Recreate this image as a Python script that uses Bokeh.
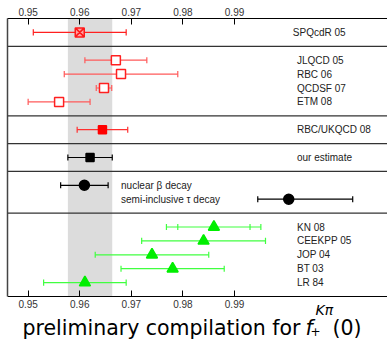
from bokeh.plotting import figure
from bokeh.models import Range1d, LinearAxis, FixedTicker, Span, BoxAnnotation
from bokeh.embed import file_html
from bokeh.resources import INLINE
from bokeh.core.properties import value

# ---------------- data ----------------
names = ["SPQcdR 05", "JLQCD 05", "RBC 06", "QCDSF 07", "ETM 08",
         "RBC/UKQCD 08", "our estimate", "nuclear β decay", "semi-inclusive τ decay",
         "KN 08", "CEEKPP 05", "JOP 04", "BT 03", "LR 84"]
rows = [1, 3, 4, 5, 6, 8, 10, 12, 13, 15, 16, 17, 18, 19]
center = [0.960, 0.967, 0.968, 0.9647, 0.956, 0.9644, 0.962, 0.9609, 1.0005,
          0.986, 0.984, 0.974, 0.978, 0.961]
err_lo = [0.951, 0.961, 0.957, 0.9632, 0.950, 0.9595, 0.9577, 0.9563, 0.9945,
          0.9768, 0.972, 0.963, 0.968, 0.953]
err_hi = [0.969, 0.973, 0.979, 0.9662, 0.962, 0.9693, 0.9663, 0.9655, 1.0129,
          0.9951, 0.996, 0.985, 0.988, 0.969]
kn_inner = [0.979, 0.993]          # inner error of KN 08 (row 15)
separators = [2, 7, 9, 11, 14]
n_rows = 20
estimate = 0.962
estimate_err = 0.0043
xticks = [0.95, 0.96, 0.97, 0.98, 0.99]

groups = [
    # indices, marker, line color, fill color, bar color, size
    ([0], "square_x", "#ff1a1a", "#ffa0a0", "#ff2020", 9),
    ([1, 2, 3, 4], "square", "#ff2020", "white", "#ff5a5a", 9),
    ([5], "square", "#ff0000", "#ff0000", "#ff3030", 8),
    ([6], "square", "black", "black", "black", 8),
    ([7, 8], "circle", "black", "black", "black", 10),
    ([9, 10, 11, 12, 13], "triangle", "#00ee00", "#00ee00", "#40ff40", 11),
]

X0, X1 = 0.946, 1.019643
ROW_PX = 13.9
Y_END = (340 - 18) / ROW_PX   # frame runs down to the bottom of the page
FONT = "Liberation Sans"

p = figure(width=387, height=340, output_backend="svg", toolbar_location=None,
           x_range=Range1d(X0, X1), y_range=Range1d(Y_END, 0),
           min_border_left=7, min_border_right=0, min_border_top=18, min_border_bottom=0,
           x_axis_location=None, y_axis_location="left")
p.outline_line_color = None
p.grid.visible = False
p.background_fill_color = "white"
p.border_fill_color = "white"

# left frame line (only over the rows)
p.yaxis.ticker = FixedTicker(ticks=[])
p.yaxis.major_label_text_font_size = "0px"
p.yaxis.major_tick_line_color = None
p.yaxis.minor_tick_line_color = None
p.yaxis.axis_line_color = "#444444"
p.yaxis.axis_line_width = 1.5
p.yaxis.bounds = (0, n_rows)

def style_x(ax):
    ax.ticker = FixedTicker(ticks=xticks)
    ax.major_tick_in = 6
    ax.major_tick_out = 0
    ax.minor_tick_line_color = None
    ax.major_tick_line_color = "black"
    ax.axis_line_color = "black"
    ax.axis_line_width = 1.2
    ax.major_label_text_font = FONT
    ax.major_label_text_font_size = "10px"
    ax.major_label_text_color = "#333333"
    ax.major_label_standoff = 3

top = LinearAxis()
style_x(top)
p.add_layout(top, "above")
bottom = LinearAxis(fixed_location=n_rows)
style_x(bottom)
p.add_layout(bottom, "below")

# band of our estimate
p.add_layout(BoxAnnotation(left=estimate - estimate_err, right=estimate + estimate_err,
                           top=0, bottom=n_rows,
                           fill_color="#dcdcdc", fill_alpha=1.0, line_color=None,
                           level="underlay"))

for s in separators:
    p.add_layout(Span(location=s, dimension="width", line_color="#333333", line_width=1.3))

cap = 0.22
for idx, marker, lc, fc, bc, size in groups:
    ys = [rows[i] for i in idx]
    xs = [center[i] for i in idx]
    lo = [err_lo[i] for i in idx]
    hi = [err_hi[i] for i in idx]
    p.segment(x0=lo, y0=ys, x1=hi, y1=ys, line_color=bc, line_width=1.2)
    p.segment(x0=lo, y0=[y - cap for y in ys], x1=lo, y1=[y + cap for y in ys],
              line_color=bc, line_width=1.2)
    p.segment(x0=hi, y0=[y - cap for y in ys], x1=hi, y1=[y + cap for y in ys],
              line_color=bc, line_width=1.2)
    p.scatter(x=xs, y=ys, marker=marker, size=size, line_color=lc, fill_color=fc,
              line_width=1.5)

# inner error of KN 08
kn_y = rows[9]
p.segment(x0=kn_inner, y0=[kn_y - cap] * 2, x1=kn_inner, y1=[kn_y + cap] * 2,
          line_color="#40ff40", line_width=1.2)

# row labels
lab_x = []
for i, n in enumerate(names):
    if i in (7, 8):
        lab_x.append(0.968)
    elif i == 0:
        lab_x.append(1.0013)
    else:
        lab_x.append(1.0021)
p.text(x=lab_x, y=rows, text=names, text_font=value(FONT), text_font_size="10px",
       text_color="#222222", text_baseline="middle", text_align="left")

# title below the rows (pixel helpers)
def px2x(px):
    return X0 + (px - 7) * (X1 - X0) / 380.0

def px2y(py):
    return (py - 18) / ROW_PX

TF = "DejaVu Sans"
title_parts = [
    ("preliminary compilation for", 22, 327, "20.5px", "normal"),
    ("f", 305, 327, "20.5px", "italic"),
    ("Kπ", 315, 309, "14px", "italic"),
    ("+", 310, 331, "12px", "normal"),
    ("(0)", 332, 327, "20.5px", "normal"),
]
for t, xpx, ypx, fs, st in title_parts:
    p.text(x=[px2x(xpx)], y=[px2y(ypx)], text=[t], text_font=value(TF),
           text_font_size=fs, text_font_style=st, text_color="black",
           text_baseline="alphabetic", text_align="left")

open("out.html", "w").write(file_html(p, INLINE))
